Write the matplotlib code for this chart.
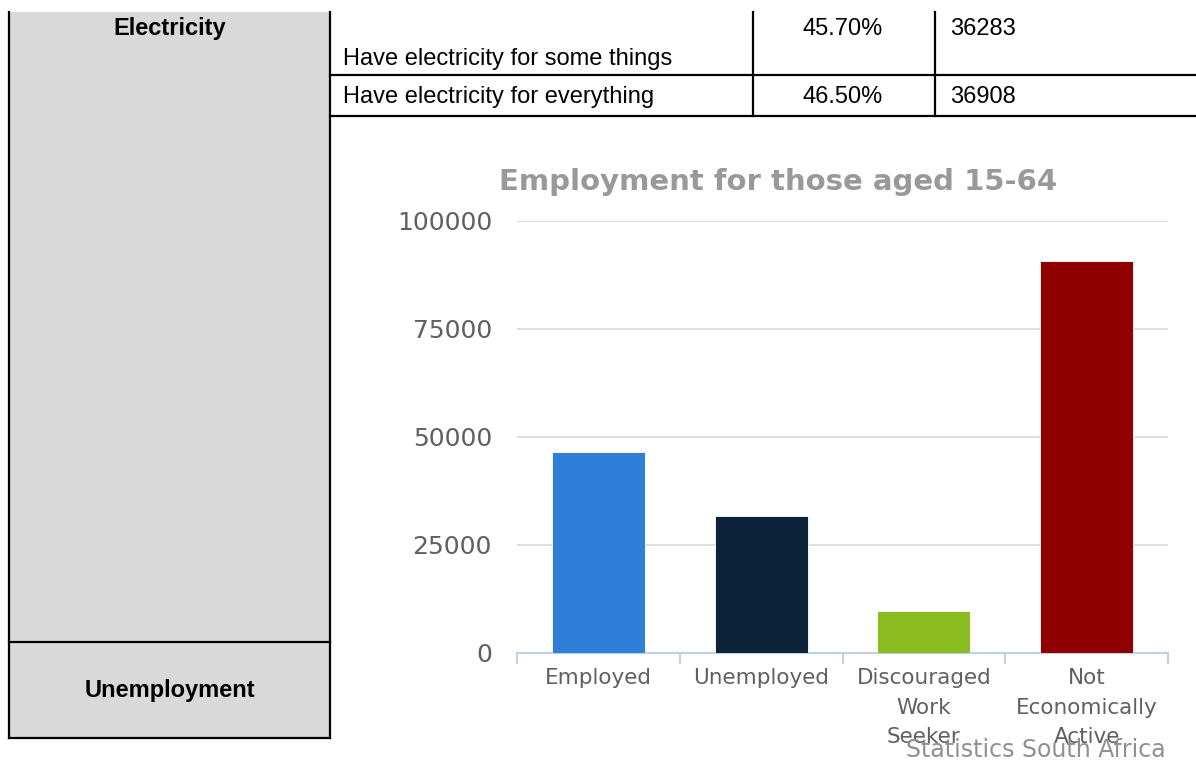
import matplotlib.pyplot as plt
import numpy as np

# table data
row_labels = ['Have electricity for some things', 'Have electricity for everything']
row_pct = ['45.70%', '46.50%']
row_counts = ['36283', '36908']
section_labels = ['Electricity', 'Unemployment']

# chart data
categories = ['Employed', 'Unemployed', 'Discouraged\nWork\nSeeker', 'Not\nEconomically\nActive']
counts = [46600, 31700, 9700, 90700]
bar_colors = ['#2F7ED8', '#0D233A', '#8BBC21', '#910000']
y_ticks = [0, 25000, 50000, 75000, 100000]

W, H = 1196, 760
fig = plt.figure(figsize=(W / 100, H / 100), dpi=100)

# background layer in pixel coordinates for the table
bg = fig.add_axes([0, 0, 1, 1])
bg.set_xlim(0, W)
bg.set_ylim(H, 0)
bg.axis('off')

bg.add_patch(plt.Rectangle((9, 12), 321, 726, facecolor='#D9D9D9', edgecolor='none'))
lw = 1.6
bg.plot([9, 9], [12, 738], color='black', lw=lw)
bg.plot([330, 330], [12, 738], color='black', lw=lw)
bg.plot([9, 330], [642, 642], color='black', lw=lw)
bg.plot([9, 330], [738, 738], color='black', lw=lw)
bg.plot([753, 753], [12, 116], color='black', lw=lw)
bg.plot([935, 935], [12, 116], color='black', lw=lw)
bg.plot([330, W], [75, 75], color='black', lw=lw)
bg.plot([330, W], [116, 116], color='black', lw=lw)

tfont = 'Liberation Sans'
fs = 17
bg.text(170, 29, section_labels[0], ha='center', va='center', fontsize=fs,
        fontweight='bold', family=tfont)
bg.text(170, 691, section_labels[1], ha='center', va='center', fontsize=fs,
        fontweight='bold', family=tfont)
row_y = [59, 97]
top_y = [29, 97]
for i in range(2):
    bg.text(343, row_y[i], row_labels[i], ha='left', va='center', fontsize=fs, family=tfont)
    bg.text(843, top_y[i], row_pct[i], ha='center', va='center', fontsize=fs, family=tfont)
    bg.text(950, top_y[i], row_counts[i], ha='left', va='center', fontsize=fs, family=tfont)

# chart
left, right, top, bottom = 517, 1168, 221, 653
ax = fig.add_axes([left / W, 1 - bottom / H, (right - left) / W, (bottom - top) / H])
x = np.arange(len(categories))
ax.bar(x, counts, width=0.57, color=bar_colors, edgecolor='white', linewidth=0.6, zorder=3)
ax.set_xlim(-0.5, len(categories) - 0.5)
ax.set_ylim(0, 100000)
ax.set_yticks(y_ticks)
ax.set_yticklabels([str(v) for v in y_ticks])
ax.grid(axis='y', color='#D8D8D8', linewidth=1.2, zorder=0)
for s in ['top', 'right', 'left']:
    ax.spines[s].set_visible(False)
ax.spines['bottom'].set_color('#C0D0E0')
ax.spines['bottom'].set_linewidth(1.5)
ax.tick_params(axis='y', length=0, pad=18, labelsize=18, labelcolor='#606060')
ax.set_xticks(x)
ax.set_xticklabels(categories, linespacing=1.58)
ax.tick_params(axis='x', length=0, pad=11, labelsize=15.5, labelcolor='#606060')
ax.set_xticks(np.arange(-0.5, len(categories)), minor=True)
ax.tick_params(axis='x', which='minor', length=8, width=1.5, color='#C0D0E0')

fig.text(778 / W, 1 - 182 / H, 'Employment for those aged 15-64', ha='center', va='center',
         fontsize=21, fontweight='bold', color='#999999')
fig.text(1166 / W, 1 - 750 / H, 'Statistics South Africa', ha='right', va='center',
         fontsize=17, color='#909090')

fig.savefig('out.png', dpi=100)
